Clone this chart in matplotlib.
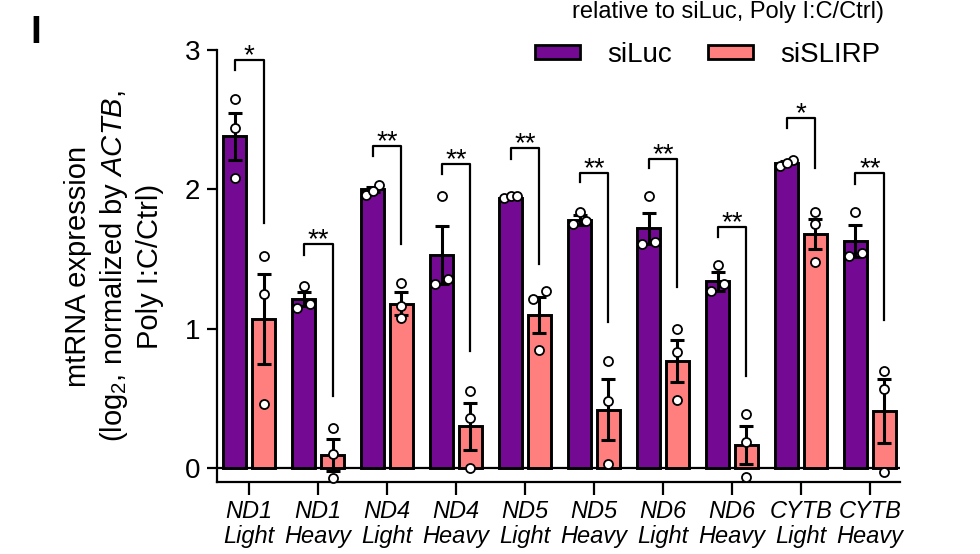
import numpy as np
import matplotlib
matplotlib.use('Agg')
import matplotlib.pyplot as plt

plt.rcParams['font.family'] = ['Liberation Sans', 'DejaVu Sans']
plt.rcParams['mathtext.fontset'] = 'custom'
plt.rcParams['mathtext.rm'] = 'Liberation Sans'
plt.rcParams['mathtext.it'] = 'Liberation Sans:italic'

categories = ['ND1\nLight', 'ND1\nHeavy', 'ND4\nLight', 'ND4\nHeavy', 'ND5\nLight',
              'ND5\nHeavy', 'ND6\nLight', 'ND6\nHeavy', 'CYTB\nLight', 'CYTB\nHeavy']

siluc_mean = [2.38, 1.21, 2.00, 1.53, 1.94, 1.78, 1.72, 1.34, 2.19, 1.63]
siluc_sem = [0.17, 0.05, 0.02, 0.21, 0.01, 0.035, 0.11, 0.07, 0.01, 0.115]
siluc_pts = [
    [2.65, 2.44, 2.08],
    [1.31, 1.15, 1.18],
    [2.03, 1.96, 1.99],
    [1.95, 1.32, 1.36],
    [1.94, 1.95, 1.95],
    [1.84, 1.75, 1.77],
    [1.95, 1.61, 1.62],
    [1.46, 1.27, 1.32],
    [2.21, 2.17, 2.19],
    [1.835, 1.525, 1.54],
]

sislirp_mean = [1.07, 0.095, 1.18, 0.30, 1.10, 0.42, 0.77, 0.165, 1.68, 0.41]
sislirp_sem = [0.32, 0.115, 0.08, 0.17, 0.13, 0.22, 0.15, 0.135, 0.11, 0.23]
sislirp_pts = [
    [1.52, 1.25, 0.46],
    [0.29, 0.10, -0.07],
    [1.33, 1.16, 1.08],
    [0.55, 0.36, 0.00],
    [1.27, 1.21, 0.85],
    [0.77, 0.48, 0.03],
    [0.995, 0.83, 0.49],
    [0.39, 0.19, -0.065],
    [1.835, 1.75, 1.48],
    [0.70, 0.565, -0.03],
]

# significance brackets: top, left leg end, right leg end
bracket_top = [2.93, 1.61, 2.31, 2.185, 2.30, 2.12, 2.22, 1.73, 2.515, 2.12]
bracket_left = [2.86, 1.53, 2.24, 2.11, 2.22, 2.05, 2.15, 1.66, 2.44, 2.04]
bracket_right = [1.76, 0.515, 1.61, 0.84, 1.465, 1.05, 1.30, 0.66, 2.15, 1.06]
stars = ['*', '**', '**', '**', '**', '**', '**', '**', '*', '**']

PURPLE = '#740A93'
SALMON = '#FF7F7F'
bar_w = 0.32
shift = 0.21


def spread(vals, thresh=0.07, step=0.1):
    # spread points sitting at almost the same height sideways
    vals = np.asarray(vals)
    order = np.argsort(vals)
    offsets = np.zeros(len(vals))
    groups = [[order[0]]]
    for i in order[1:]:
        if vals[i] - vals[groups[-1][-1]] < thresh:
            groups[-1].append(i)
        else:
            groups.append([i])
    for g in groups:
        if len(g) > 1:
            offsets[g] = np.linspace(-step, step, len(g))
    return offsets


fig = plt.figure(figsize=(9.8, 5.54), dpi=100)
ax = fig.add_axes([217 / 980, 1 - 482 / 554, 683 / 980, 432 / 554])

x = np.arange(len(categories))
for xs, mean, sem, pts, color in [(x - shift, siluc_mean, siluc_sem, siluc_pts, PURPLE),
                                  (x + shift, sislirp_mean, sislirp_sem, sislirp_pts, SALMON)]:
    ax.bar(xs, mean, width=bar_w, color=color, edgecolor='black', linewidth=2.1, zorder=3)
    ax.errorbar(xs, mean, yerr=sem, fmt='none', ecolor='black', elinewidth=2.2,
                capsize=5, capthick=2.2, zorder=4)
    for xi, p in zip(xs, pts):
        ax.plot(xi + spread(p), p, 'o', ms=6.5, mfc='white', mec='black', mew=1.3,
                zorder=5, clip_on=False)

for i in range(len(categories)):
    xl, xr = x[i] - shift, x[i] + shift
    ax.plot([xl, xl, xr, xr], [bracket_left[i], bracket_top[i], bracket_top[i], bracket_right[i]],
            color='black', lw=1.6, clip_on=False, zorder=4)
    ax.text(x[i], bracket_top[i] - 0.025, stars[i], ha='center', va='baseline',
            fontsize=20, clip_on=False)

ax.axhline(0, color='black', lw=1.6, zorder=2)

ax.set_xlim(-0.464, 9.435)
ax.set_ylim(-0.1, 3.0)
ax.set_yticks([0, 1, 2, 3])
ax.set_xticks(x, categories, fontstyle='italic', fontsize=17, linespacing=1.1)
ax.tick_params(axis='y', labelsize=20, length=7, width=1.6, pad=5)
ax.tick_params(axis='x', length=9, width=1.6, pad=4)
for s in ['top', 'right']:
    ax.spines[s].set_visible(False)
for s in ['left', 'bottom']:
    ax.spines[s].set_linewidth(1.6)

fig.text(114 / 980, 0.5 * (1 - 482 / 554) + 0.5 * (1 - 50 / 554),
         'mtRNA expression\n(log$_2$, normalized by $\\mathit{ACTB}$,\nPoly I:C/Ctrl)',
         rotation=90, ha='center', va='center', multialignment='center',
         fontsize=21, linespacing=1.25)

handles = [plt.Rectangle((0, 0), 1, 1, facecolor=PURPLE, edgecolor='black', lw=2),
           plt.Rectangle((0, 0), 1, 1, facecolor=SALMON, edgecolor='black', lw=2)]
fig.legend(handles, ['siLuc', 'siSLIRP'], loc='center left',
           bbox_to_anchor=(535 / 980, 1 - 55 / 554), ncol=2, frameon=False,
           fontsize=20, borderpad=0, borderaxespad=0, handlelength=1.62,
           handleheight=0.4, handletextpad=0.97, columnspacing=1.3)

fig.text(30.5 / 980, 1 - 43 / 554, 'I', fontsize=28, fontweight='bold', va='baseline')
fig.text(572 / 980, 1 - 18 / 554, 'relative to siLuc, Poly I:C/Ctrl)', fontsize=17,
         va='baseline')

fig.savefig('out.png', dpi=100)
